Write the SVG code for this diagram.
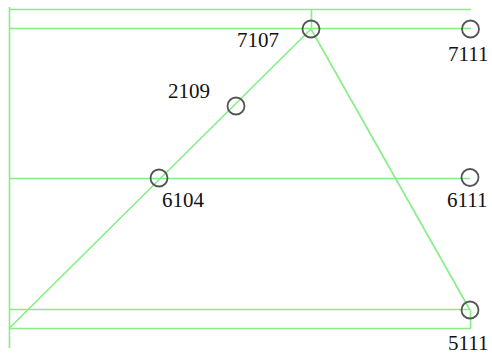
<svg xmlns="http://www.w3.org/2000/svg" width="492" height="354" viewBox="0 0 492 354">
<style>
.ln{stroke:#86ee86;stroke-width:1.6;fill:none}
.nd{fill:none;stroke:#555;stroke-width:1.8}
.lb{font-family:"Liberation Serif",serif;font-size:21px;fill:#111}
</style>
<rect width="492" height="354" fill="#fff"/>
<g id="connectors">
<line class="ln" x1="9.5" y1="7" x2="9.5" y2="348"/>
<line class="ln" x1="9" y1="9.5" x2="471" y2="9.5"/>
<line class="ln" x1="9" y1="28.5" x2="471" y2="28.5"/>
<line class="ln" x1="311.5" y1="9" x2="311.5" y2="29"/>
<line class="ln" x1="9" y1="178.5" x2="470" y2="178.5"/>
<line class="ln" x1="9" y1="309.5" x2="470" y2="309.5"/>
<line class="ln" x1="9" y1="328.5" x2="471" y2="328.5"/>
<line class="ln" x1="470.5" y1="310" x2="470.5" y2="328.5"/>
<line class="ln" x1="9" y1="328.5" x2="311" y2="29"/>
<line class="ln" x1="311" y1="29" x2="470" y2="310"/>
</g>
<g id="n7107"><circle class="nd" cx="311" cy="29" r="8.5"/><text class="lb" x="237" y="47">7107</text></g>
<g id="n7111"><circle class="nd" cx="470.5" cy="29" r="8.5"/><text class="lb" x="448" y="61">7111</text></g>
<g id="n2109"><circle class="nd" cx="236" cy="106" r="8.5"/><text class="lb" x="168" y="98">2109</text></g>
<g id="n6104"><circle class="nd" cx="159" cy="178" r="8.5"/><text class="lb" x="162" y="207">6104</text></g>
<g id="n6111"><circle class="nd" cx="470" cy="177.5" r="8.5"/><text class="lb" x="447" y="207">6111</text></g>
<g id="n5111"><circle class="nd" cx="470" cy="310" r="8.5"/><text class="lb" x="448" y="350">5111</text></g>
</svg>
